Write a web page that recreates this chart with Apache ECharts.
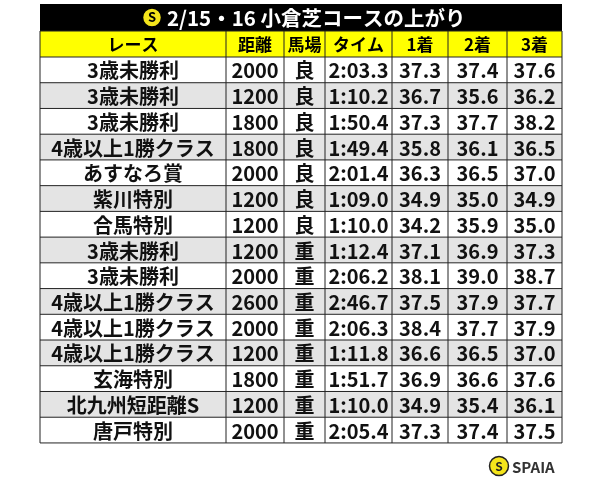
<!DOCTYPE html>
<html><head><meta charset="utf-8">
<script src="https://cdn.jsdelivr.net/npm/echarts@6/dist/echarts.min.js"></script>
<style>html,body{margin:0;padding:0;background:#fff}#c{width:600px;height:483px}</style>
</head><body><div id="c"></div>
<script>
const title = '2/15・16 小倉芝コースの上がり';
const headers = ['レース','距離','馬場','タイム','1着','2着','3着'];
const races = ['3歳未勝利','3歳未勝利','3歳未勝利','4歳以上1勝クラス','あすなろ賞','紫川特別','合馬特別','3歳未勝利','3歳未勝利','4歳以上1勝クラス','4歳以上1勝クラス','4歳以上1勝クラス','玄海特別','北九州短距離S','唐戸特別'];
const distances = ['2000','1200','1800','1800','2000','1200','1200','1200','2000','2600','2000','1200','1800','1200','2000'];
const going = ['良','良','良','良','良','良','良','重','重','重','重','重','重','重','重'];
const times = ['2:03.3','1:10.2','1:50.4','1:49.4','2:01.4','1:09.0','1:10.0','1:12.4','2:06.2','2:46.7','2:06.3','1:11.8','1:51.7','1:10.0','2:05.4'];
const first = ['37.3','36.7','37.3','35.8','36.3','34.9','34.2','37.1','38.1','37.5','38.4','36.6','36.9','34.9','37.3'];
const second = ['37.4','35.6','37.7','36.1','36.5','35.0','35.9','36.9','39.0','37.9','37.7','36.5','36.6','35.4','37.4'];
const third = ['37.6','36.2','38.2','36.5','37.0','34.9','35.0','37.3','38.7','37.7','37.9','37.0','37.6','36.1','37.5'];

(function(){
const colX = [40,226,284,325,392,448,507,562];
const y0 = 4, titleH = 27, headH = 26, rowH = 25.73;
const font = '"Noto Sans CJK JP","Noto Sans",sans-serif';
const g = [];
g.push({type:'rect',shape:{x:colX[0],y:y0,width:colX[7]-colX[0],height:titleH},style:{fill:'#000'}});
g.push({type:'circle',shape:{cx:152,cy:y0+titleH/2,r:9.5},style:{fill:'#f5e51b',stroke:'#000',lineWidth:1.5}});
g.push({type:'text',style:{x:152,y:y0+titleH/2,text:'S',fill:'#000',font:'bold 13px '+font,align:'center',verticalAlign:'middle'}});
g.push({type:'text',style:{x:167,y:y0+titleH/2+1,text:title,fill:'#fff',font:'bold 20.5px '+font,verticalAlign:'middle'}});
const hy = y0+titleH;
g.push({type:'rect',shape:{x:colX[0],y:hy,width:colX[7]-colX[0],height:headH},style:{fill:'#ffff00'}});
headers.forEach((h,i)=>{
  g.push({type:'text',z:5,style:{x:(colX[i]+colX[i+1])/2,y:hy+headH/2+1,text:h,fill:'#000',font:'bold 17px '+font,align:'center',verticalAlign:'middle'}});
});
const cols=[races,distances,going,times,first,second,third];
races.forEach((r,j)=>{
  const y=hy+headH+j*rowH;
  g.push({type:'rect',shape:{x:colX[0],y:y,width:colX[7]-colX[0],height:rowH},style:{fill:j%2?'#e4e4e4':'#fff'}});
  cols.forEach((c,i)=>{
    g.push({type:'text',z:5,style:{x:(colX[i]+colX[i+1])/2,y:y+rowH/2+1,text:c[j],fill:'#111',font:'bold 20px '+font,align:'center',verticalAlign:'middle'}});
  });
});
const bottom = hy+headH+races.length*rowH;
for(let j=0;j<=races.length+1;j++){
  const y=j===0?hy:hy+headH+(j-1)*rowH;
  g.push({type:'line',z:4,shape:{x1:colX[0],y1:y,x2:colX[7],y2:y},style:{stroke:'#222',lineWidth:1}});
}
colX.forEach(x=>g.push({type:'line',z:4,shape:{x1:x,y1:hy,x2:x,y2:bottom},style:{stroke:'#222',lineWidth:1}}));
g.push({type:'circle',shape:{cx:499,cy:466,r:9.5},style:{fill:'#f5e51b',stroke:'#222',lineWidth:1.5}});
g.push({type:'text',style:{x:499,y:466,text:'S',fill:'#222',font:'bold 12px '+font,align:'center',verticalAlign:'middle'}});
g.push({type:'text',style:{x:512,y:467,text:'SPAIA',fill:'#333',font:'bold 15px '+font,verticalAlign:'middle'}});
const chart=echarts.init(document.getElementById('c'));
chart.setOption({animation:false,graphic:g});
})();
</script></body></html>
